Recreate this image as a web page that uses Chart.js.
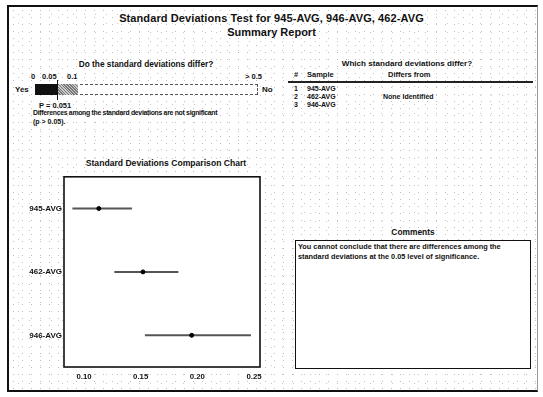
<!DOCTYPE html>
<html>
<head>
<meta charset="utf-8">
<script src="https://cdn.jsdelivr.net/npm/chart.js@4.4.1/dist/chart.umd.min.js"></script>
<style>
  html,body{margin:0;padding:0;}
  body{width:543px;height:397px;position:relative;overflow:hidden;background:#fff;
    font-family:"Liberation Sans",Arial,sans-serif;color:#111;}
  #page{position:absolute;left:7px;top:5px;width:531px;height:387px;
    border-left:2.5px solid #111;border-top:2px solid #111;border-bottom:2px solid #111;border-right:1px solid #999;
    box-sizing:border-box;
    background-image:
      radial-gradient(circle, #bdbdbd 0.55px, transparent 0.8px),
      radial-gradient(circle, #c8c8c8 0.5px, transparent 0.75px);
    background-size:9px 7px, 11px 9px;
    background-position:0 0, 4px 3px;}
  .t{position:absolute;white-space:nowrap;}
  .b{font-weight:bold;}
  #bar{position:absolute;left:35px;top:84px;width:223px;height:11px;border:1px dashed #555;box-sizing:border-box;background:#fff;}
  #blk{position:absolute;left:35px;top:84px;width:22px;height:11px;background:#111;}
  #hatch{position:absolute;left:57px;top:84px;width:21px;height:11px;
    background:repeating-linear-gradient(45deg,#777 0 1px,#ccc 1px 2px);}
  #pline{position:absolute;left:57px;top:80px;width:1px;height:20px;background:#111;}
  #tline{position:absolute;left:288px;top:81px;width:245px;height:1.5px;background:#222;}
  #cbox{position:absolute;left:295px;top:240px;width:236px;height:129px;border:1.5px solid #111;box-sizing:border-box;background:#fff;}
  #wrap{position:absolute;left:0;top:170px;width:270px;height:222px;}
</style>
</head>
<body>
<div id="page"></div>
<div class="t b" style="left:0;width:543px;text-align:center;top:12px;font-size:11px;letter-spacing:0.1px;">Standard Deviations Test for 945-AVG, 946-AVG, 462-AVG</div>
<div class="t b" style="left:0;width:543px;text-align:center;top:26px;font-size:11px;">Summary Report</div>

<div class="t b" style="left:46px;width:200px;text-align:center;top:59px;font-size:8.3px;">Do the standard deviations differ?</div>
<div class="t b" style="left:31px;top:72px;font-size:7.5px;">0</div>
<div class="t b" style="left:42px;top:72px;font-size:7.5px;">0.05</div>
<div class="t b" style="left:67px;top:72px;font-size:7.5px;">0.1</div>
<div class="t b" style="left:245px;top:72px;font-size:7.5px;">&gt; 0.5</div>
<div class="t b" style="left:15px;top:85px;font-size:8px;">Yes</div>
<div class="t b" style="left:262px;top:85px;font-size:8px;">No</div>
<div id="bar"></div><div id="blk"></div><div id="hatch"></div><div id="pline"></div>
<div class="t b" style="left:39px;top:101px;font-size:7.5px;">P = 0.051</div>
<div class="t b" style="left:33px;top:109px;font-size:6.9px;letter-spacing:-0.3px;">Differences among the standard deviations are not significant</div>
<div class="t b" style="left:33px;top:118px;font-size:7px;">(p &gt; 0.05).</div>

<div class="t b" style="left:307px;width:200px;text-align:center;top:59px;font-size:8.1px;">Which standard deviations differ?</div>
<div class="t b" style="left:294px;top:70px;font-size:7.5px;">#</div>
<div class="t b" style="left:307px;top:70px;font-size:7.5px;">Sample</div>
<div class="t b" style="left:388px;top:70px;font-size:7.5px;">Differs from</div>
<div id="tline"></div>
<div id="rows"></div>

<div class="t b" style="left:66px;width:200px;text-align:center;top:158px;font-size:8.6px;">Standard Deviations Comparison Chart</div>

<div class="t b" style="left:313px;width:200px;text-align:center;top:227px;font-size:8.4px;">Comments</div>
<div id="cbox"></div>
<div class="t b" style="left:298px;top:242px;font-size:7.35px;line-height:10px;">You cannot conclude that there are differences among the<br>standard deviations at the 0.05 level of significance.</div>

<div id="wrap"><canvas id="c" width="270" height="222"></canvas></div>

<script>
// ---- data ----
const samples = ["945-AVG", "462-AVG", "946-AVG"];
const sdEstimate = [0.113, 0.152, 0.195];
const sdLower = [0.090, 0.127, 0.154];
const sdUpper = [0.142, 0.183, 0.247];
const xTicks = [0.10, 0.15, 0.20, 0.25];
const tableRows = [["1", "945-AVG", ""], ["2", "462-AVG", "None Identified"], ["3", "946-AVG", ""]];

// table rows
const rowsEl = document.getElementById('rows');
tableRows.forEach((r, i) => {
  const y = 85 + i * 8;
  rowsEl.insertAdjacentHTML('beforeend',
    `<div class="t b" style="left:294px;top:${y}px;font-size:7px;">${r[0]}</div>` +
    `<div class="t b" style="left:307px;top:${y}px;font-size:7px;">${r[1]}</div>` +
    (r[2] ? `<div class="t b" style="left:383px;top:${y}px;font-size:7px;">${r[2]}</div>` : ''));
});

const boxPlugin = {
  id: 'box',
  beforeDraw(chart) {
    const {ctx, chartArea: a} = chart;
    ctx.save();
    ctx.fillStyle = '#fff';
    ctx.fillRect(a.left, a.top, a.right - a.left, a.bottom - a.top);
    ctx.restore();
  },
  afterDraw(chart) {
    const {ctx, chartArea: a} = chart;
    ctx.save();
    ctx.strokeStyle = '#111';
    ctx.lineWidth = 1.6;
    ctx.strokeRect(a.left, a.top, a.right - a.left, a.bottom - a.top);
    ctx.restore();
  }
};

new Chart(document.getElementById('c'), {
  type: 'bar',
  data: {
    labels: samples,
    datasets: [
      {
        type: 'bar',
        data: samples.map((s, i) => [sdLower[i], sdUpper[i]]),
        backgroundColor: '#555',
        borderWidth: 0,
        barThickness: 1.3,
        order: 2
      },
      {
        type: 'scatter',
        data: samples.map((s, i) => ({x: sdEstimate[i], y: s})),
        backgroundColor: '#000',
        borderColor: '#000',
        pointRadius: 2,
        order: 1
      }
    ]
  },
  options: {
    indexAxis: 'y',
    responsive: false,
    animation: false,
    events: [],
    layout: {padding: {top: 4, right: 10, left: 0, bottom: 0}},
    plugins: {legend: {display: false}, tooltip: {enabled: false}},
    scales: {
      x: {
        type: 'linear',
        min: 0.0823, max: 0.2553,
        afterBuildTicks: s => { s.ticks = xTicks.map(v => ({value: v})); },
        afterFit: s => { s.height = 25; },
        grid: {display: false, drawTicks: false},
        border: {display: false},
        ticks: {
          callback: v => v.toFixed(2),
          color: '#111',
          font: {family: 'Liberation Sans', size: 7.8, weight: 'bold'},
          padding: 5, maxRotation: 0
        }
      },
      y: {
        type: 'category',
        offset: true,
        afterFit: s => { s.width = 64; },
        grid: {display: false, drawTicks: false},
        border: {display: false},
        ticks: {
          color: '#111',
          font: {family: 'Liberation Sans', size: 8, weight: 'bold'},
          padding: 2
        }
      }
    }
  },
  plugins: [boxPlugin]
});
</script>
</body>
</html>
